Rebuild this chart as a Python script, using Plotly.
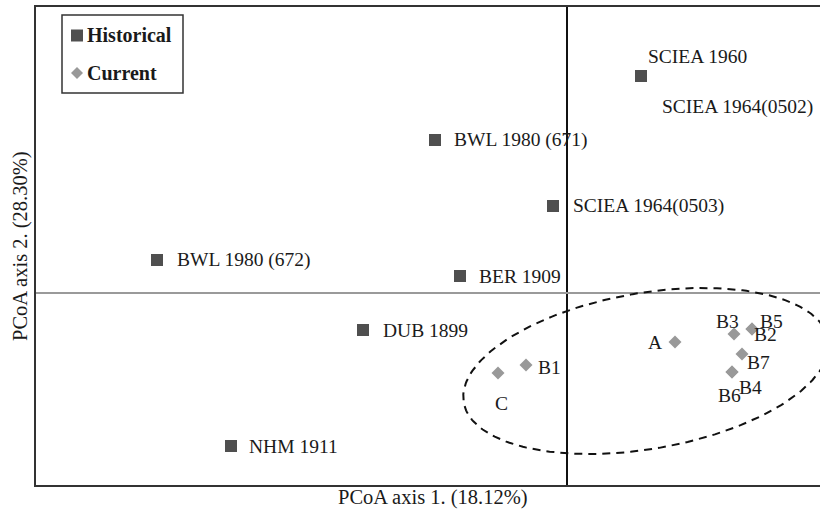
import numpy as np
import plotly.graph_objects as go

# ---- data: PCoA coordinates ----
hist_labels = ["SCIEA 1960", "SCIEA 1964(0502)", "BWL 1980 (671)", "SCIEA 1964(0503)",
               "BWL 1980 (672)", "BER 1909", "DUB 1899", "NHM 1911"]
hist_x = [0.074, 0.074, -0.132, -0.014, -0.410, -0.107, -0.204, -0.336]
hist_y = [0.217, 0.217, 0.153, 0.087, 0.033, 0.017, -0.037, -0.153]

curr_labels = ["A", "B3", "B5", "B2", "B7", "B6", "B4", "C", "B1"]
curr_x = [0.108, 0.167, 0.185, 0.185, 0.175, 0.165, 0.165, -0.069, -0.041]
curr_y = [-0.049, -0.041, -0.036, -0.036, -0.061, -0.079, -0.079, -0.080, -0.072]

# dashed ellipse enclosing the current samples
ell_center = (0.079, -0.078)
ell_axes = (0.185, 0.078)
ell_angle_deg = 9.8

axis1_title = "PCoA axis 1. (18.12%)"
axis2_title = "PCoA axis 2. (28.30%)"

# ---- layout geometry ----
W, H = 820, 510
M_L, M_R, M_T, M_B = 36, 0, 7, 25
PW, PH = W - M_L - M_R, H - M_T - M_B
X_RANGE = [-0.531, 0.253]
Y_RANGE = [-0.192, 0.286]


def paper_x(px):
    return (px - M_L) / PW


def paper_y(py):
    return (H - M_B - py) / PH


FONT = "Liberation Serif, Times New Roman, serif"
TXT = "#1a1a1a"
HIST_COLOR = "#4f4f4f"
CURR_COLOR = "#999999"
LABEL_SIZE = 19.5

# label placement: (xanchor, xshift, yshift) in pixels
hist_pos = [("left", 5, 20), ("left", 19, -31), ("left", 17, 0), ("left", 18, 0),
            ("left", 18, 0), ("left", 17, 0), ("left", 18, 0), ("left", 16, 0)]
curr_pos = [("right", -11, 0), ("center", -7, 13), ("center", 19, 8), ("center", 13, -5),
            ("center", 16, -8), ("center", -3, -23), ("center", 18, -15),
            ("center", 3, -30), ("left", 10, -2)]

fig = go.Figure()

# ellipse outline
t = np.linspace(0, 2 * np.pi, 241)
th = np.deg2rad(ell_angle_deg)
ex = ell_center[0] + ell_axes[0] * np.cos(t) * np.cos(th) - ell_axes[1] * np.sin(t) * np.sin(th)
ey = ell_center[1] + ell_axes[0] * np.cos(t) * np.sin(th) + ell_axes[1] * np.sin(t) * np.cos(th)
fig.add_trace(go.Scatter(x=ex, y=ey, mode="lines", showlegend=False, hoverinfo="skip",
                         line=dict(color="#111111", width=2, dash="8px,6px")))

fig.add_trace(go.Scatter(x=hist_x, y=hist_y, mode="markers", name="Historical",
                         text=hist_labels, showlegend=False,
                         marker=dict(symbol="square", size=12, color=HIST_COLOR)))
fig.add_trace(go.Scatter(x=curr_x, y=curr_y, mode="markers", name="Current",
                         text=curr_labels, showlegend=False,
                         marker=dict(symbol="diamond", size=10, color=CURR_COLOR)))

annotations = []
for lab, x, y, (xa, dx, dy) in zip(hist_labels, hist_x, hist_y, hist_pos):
    annotations.append(dict(x=x, y=y, xref="x", yref="y", text=lab, showarrow=False,
                            xanchor=xa, yanchor="middle", xshift=dx, yshift=dy,
                            font=dict(family=FONT, size=LABEL_SIZE, color=TXT)))
for lab, x, y, (xa, dx, dy) in zip(curr_labels, curr_x, curr_y, curr_pos):
    annotations.append(dict(x=x, y=y, xref="x", yref="y", text=lab, showarrow=False,
                            xanchor=xa, yanchor="middle", xshift=dx, yshift=dy,
                            font=dict(family=FONT, size=LABEL_SIZE, color=TXT)))

# axis titles
annotations.append(dict(x=paper_x(433), y=paper_y(497), xref="paper", yref="paper",
                        text=axis1_title, showarrow=False, xanchor="center", yanchor="middle",
                        font=dict(family=FONT, size=20.5, color=TXT)))
annotations.append(dict(x=paper_x(20), y=paper_y(246), xref="paper", yref="paper",
                        text=axis2_title, showarrow=False, xanchor="center", yanchor="middle",
                        textangle=-90, font=dict(family=FONT, size=20.5, color=TXT)))

# legend box
annotations.append(dict(x=paper_x(85), y=paper_y(35), xref="paper", yref="paper",
                        text="<b>Historical</b>", showarrow=False, xanchor="left",
                        yanchor="middle", font=dict(family=FONT, size=20, color=TXT)))
annotations.append(dict(x=paper_x(85), y=paper_y(73), xref="paper", yref="paper",
                        text="<b>Current</b>", showarrow=False, xanchor="left",
                        yanchor="middle", font=dict(family=FONT, size=20, color=TXT)))

shapes = [
    dict(type="rect", xref="paper", yref="paper", x0=paper_x(62), x1=paper_x(183),
         y0=paper_y(93), y1=paper_y(15), line=dict(color="#333333", width=1.5),
         fillcolor="white", layer="above"),
    dict(type="rect", xref="paper", yref="paper", x0=paper_x(71), x1=paper_x(83),
         y0=paper_y(41.5), y1=paper_y(29.5), line=dict(width=0), fillcolor=HIST_COLOR,
         layer="above"),
    dict(type="path", xref="paper", yref="paper",
         path=(f"M {paper_x(71)},{paper_y(73)} L {paper_x(77)},{paper_y(67)} "
               f"L {paper_x(83)},{paper_y(73)} L {paper_x(77)},{paper_y(79)} Z"),
         line=dict(width=0), fillcolor=CURR_COLOR, layer="above"),
]

fig.update_layout(
    width=W, height=H,
    margin=dict(l=M_L, r=M_R, t=M_T, b=M_B, pad=0),
    paper_bgcolor="white", plot_bgcolor="white",
    showlegend=False,
    annotations=annotations,
    shapes=shapes,
    xaxis=dict(range=X_RANGE, showgrid=False, showticklabels=False, ticks="",
               zeroline=True, zerolinecolor="#111111", zerolinewidth=2,
               showline=True, mirror=True, linecolor="#333333", linewidth=2),
    yaxis=dict(range=Y_RANGE, showgrid=False, showticklabels=False, ticks="",
               zeroline=True, zerolinecolor="#9a9a9a", zerolinewidth=2,
               showline=True, mirror=False, linecolor="#333333", linewidth=2),
)

fig.write_html("out.html")
